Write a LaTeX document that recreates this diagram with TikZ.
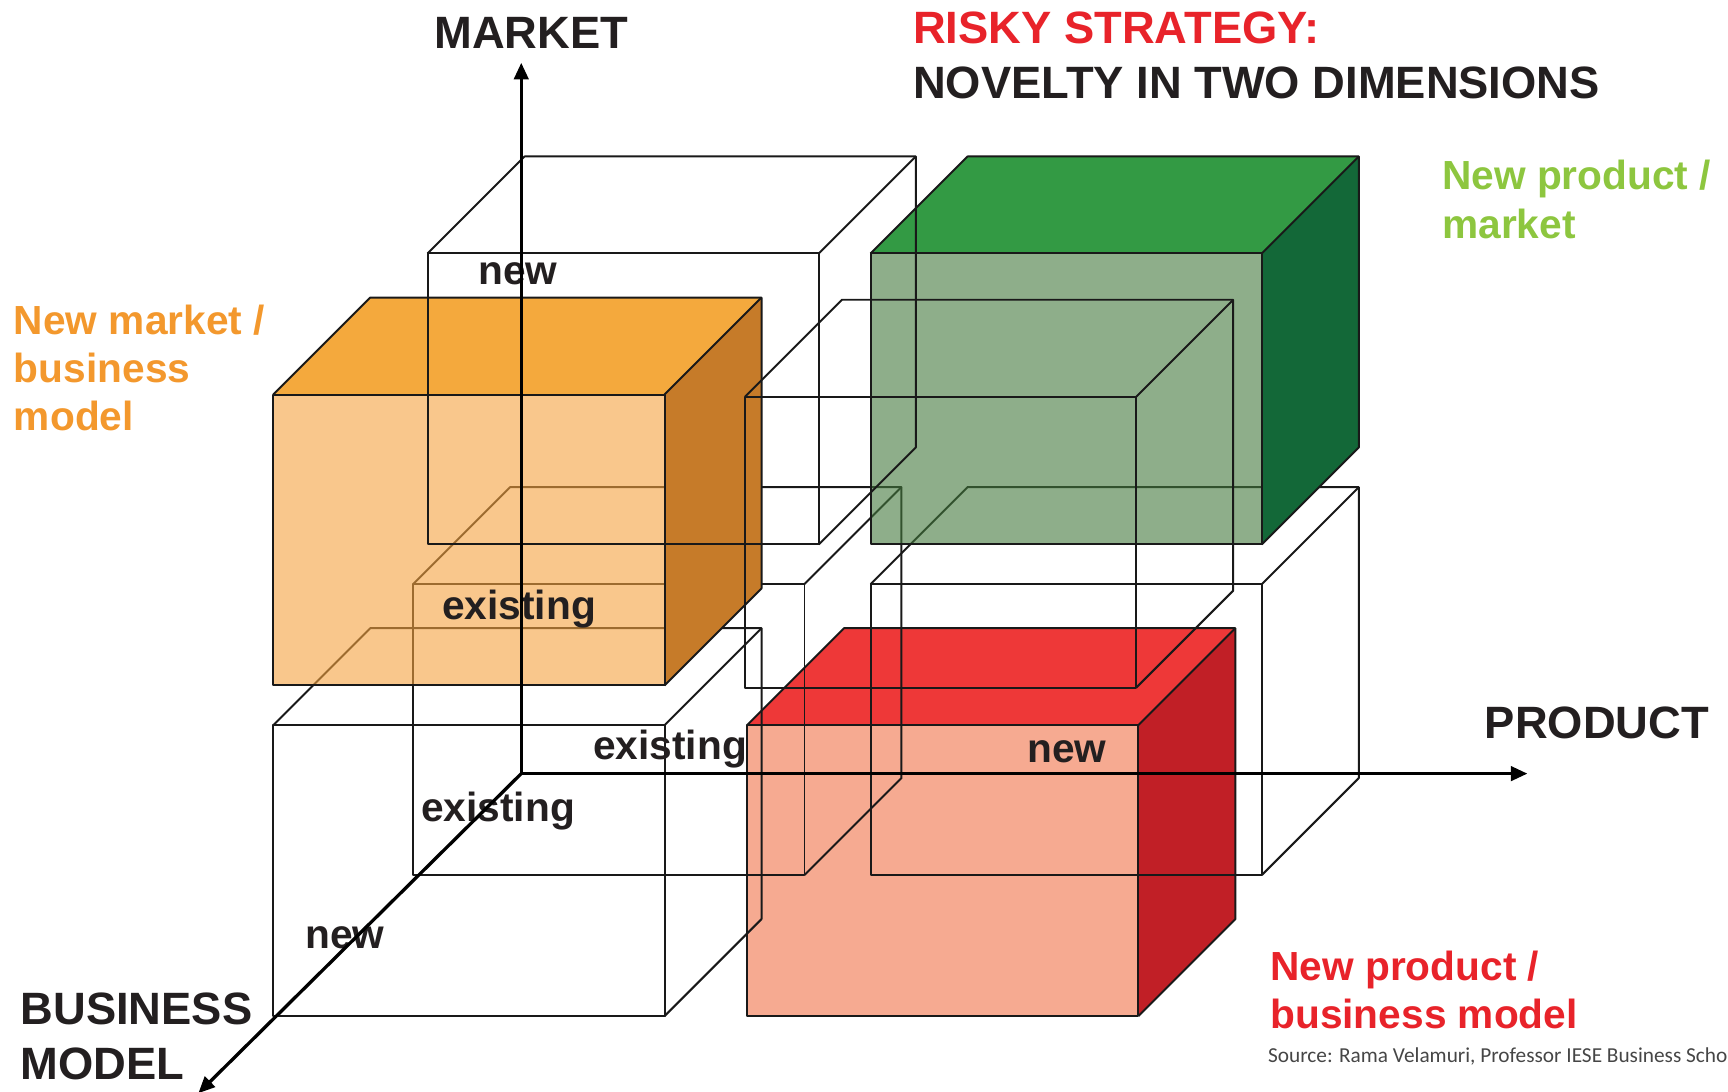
\documentclass[tikz,border=0pt]{standalone}
\usepackage{fontspec}
\setmainfont{Liberation Sans}
\newfontfamily\srcfont{Carlito}
\usepackage{xcolor}
\usetikzlibrary{arrows.meta,positioning}

\definecolor{ink}{RGB}{35,31,32}
\definecolor{riskred}{RGB}{232,35,42}
\definecolor{mktorange}{RGB}{243,152,45}
\definecolor{prodgreen}{RGB}{141,198,63}
\definecolor{srcgray}{RGB}{70,70,70}
% box faces (front ones are laid on at 60%)
\definecolor{orgfront}{RGB}{245,162,63}
\definecolor{orgtop}{RGB}{244,169,61}
\definecolor{orgside}{RGB}{198,123,41}
\definecolor{grnfront}{RGB}{67,120,60}
\definecolor{grntop}{RGB}{51,154,68}
\definecolor{grnside}{RGB}{19,104,56}
\definecolor{redfront}{RGB}{240,113,72}
\definecolor{redtop}{RGB}{238,56,56}
\definecolor{redside}{RGB}{193,31,38}

% box size, in 0.1mm
\newcommand{\cubew}{355}
\newcommand{\cubeh}{264}
\newcommand{\cubed}{88}

% only the edges you can see
\newcommand{\wirebox}[1]{%
  \draw[boxline] (#1) rectangle ++(\cubew,\cubeh);
  \draw[boxline] (#1) -- ++(\cubed,-\cubed) -- ++(\cubew,0) -- ++(0,\cubeh) -- ++(-\cubed,\cubed);
  \draw[boxline] (#1) ++(\cubew,0) -- ++(\cubed,-\cubed);
}
% corner, front, top, side
\newcommand{\solidbox}[4]{%
  \fill[#3] (#1) -- ++(\cubed,-\cubed) -- ++(\cubew,0) -- ++(-\cubed,\cubed) -- cycle;
  \fill[#4] (#1) ++(\cubew,0) -- ++(\cubed,-\cubed) -- ++(0,\cubeh) -- ++(-\cubed,\cubed) -- cycle;
  \fill[#2,fill opacity=0.6] (#1) rectangle ++(\cubew,\cubeh);
  \wirebox{#1}
}

\begin{document}
\begin{tikzpicture}[x=0.1mm,y=-0.1mm,
    boxline/.style={draw=black!90,line width=0.18mm,line join=round},
    axis/.style={line width=0.3mm,-{Triangle[length=1.5mm,width=1.3mm]}},
    big/.style={font=\fontsize{11.7}{14.2}\selectfont\bfseries,text=ink,inner sep=0pt,align=left},
    tick/.style={font=\fontsize{10.5}{12}\selectfont\bfseries,text=ink,inner sep=0pt,anchor=base},
    corner/.style={font=\fontsize{10.5}{12.4}\selectfont\bfseries,inner sep=0pt,align=left,anchor=west}]
    \useasboundingbox (0,0) rectangle (1568,990);

    %box corners (front, top left); f = new business model, b = existing
    %first letter market, second letter product: N new, E existing
    \coordinate (fNE) at (248,358);
    \coordinate (fEE) at (248,658);
    \coordinate (fNN) at (676,360);
    \coordinate (fEN) at (678,658);
    \coordinate (bNE) at (388,230);
    \coordinate (bEE) at (375,530);
    \coordinate (bNN) at (790,230);
    \coordinate (bEN) at (790,530);

    %boxes, back to front
    \solidbox{fEN}{redfront}{redtop}{redside}
    \wirebox{bEE}
    \wirebox{fEE}
    \wirebox{bEN}
    \solidbox{fNE}{orgfront}{orgtop}{orgside}
    \solidbox{bNN}{grnfront}{grntop}{grnside}
    \wirebox{bNE}
    \wirebox{fNN}

    %nodes
    \node[big,anchor=base] (market) at (482,44) {MARKET};
    \node[big,anchor=base] (product) at (1449,670) {PRODUCT};
    \node[big,anchor=west,text depth=0pt] (bmodel) at (18,940) {BUSINESS\\MODEL};
    \node[big,anchor=west] (title) at (828,50) {\textcolor{riskred}{RISKY STRATEGY:}\\NOVELTY IN TWO DIMENSIONS};

    \node[corner,text=prodgreen] (npm) at (1308,181) {New product /\\market};
    \node[corner,text=mktorange] (nmb) at (12,334) {New market /\\business\\model};
    \node[corner,text=riskred] (npb) at (1152,898) {New product /\\business model};

    \node[tick] (mnew) at (470,258) {new};
    \node[tick] (mold) at (471,562) {existing};
    \node[tick] (pold) at (608,689) {existing};
    \node[tick] (pnew) at (968,692) {new};
    \node[tick] (bold) at (452,745) {existing};
    \node[tick] (bnew) at (313,861) {new};

    \node[font=\srcfont\fontsize{5.5}{6.6}\selectfont,text=srcgray,inner sep=0pt,anchor=base west] (src) at (1150,964) {Source: Rama Velamuri, Professor IESE Business Scho};

    %axes
    \coordinate (O) at (473,702);
    \coordinate (mtip) at (473,57);
    \coordinate (ptip) at (1386,702);
    \coordinate (btip) at (180,992);
    \draw[axis] (O) -- (mtip);
    \draw[axis] (O) -- (ptip);
    \draw[axis] (O) -- (btip);
\end{tikzpicture}
\end{document}
